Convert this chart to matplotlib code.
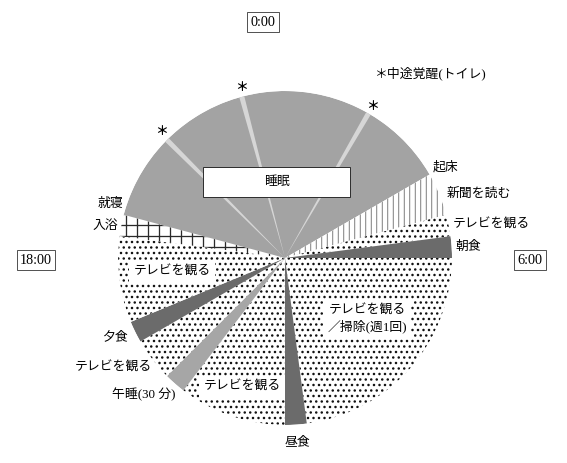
import numpy as np
import matplotlib
matplotlib.use("Agg")
import matplotlib.pyplot as plt
from matplotlib.patches import Rectangle

# ---------------- data ----------------
activity_labels = ["入浴", "睡眠", "新聞を読む", "テレビを観る", "朝食",
                   "テレビを観る／掃除", "昼食", "テレビを観る", "午睡",
                   "テレビを観る", "夕食", "テレビを観る"]
activity_kind = ["bath", "sleep", "news", "tv", "meal",
                 "tv", "meal", "tv", "nap", "tv", "meal", "tv"]
start_hour = [18.5, 19.0, 4.0, 5.0, 5.5, 6.0, 11.5, 12.0, 14.5, 15.0, 16.0, 16.5]
end_hour = [19.0, 28.0, 5.0, 5.5, 6.0, 11.5, 12.0, 14.5, 15.0, 16.0, 16.5, 18.5]
wake_hours = [21.0, 23.0, 2.0]      # 中途覚醒（トイレ）
wake_minutes = 7
clock_labels = ["0:00", "6:00", "18:00"]

# ---------------- styles ----------------
W, H, DPI = 567, 463, 66
FONT = ["Liberation Serif", "Noto Sans CJK JP", "DejaVu Sans"]
plt.rcParams["font.family"] = FONT

styles = {
    "sleep": dict(color="#a3a3a3", hatch=None, ec="#a3a3a3", hlw=1.0),
    "bath":  dict(color="white", hatch="+", ec="#2a2a2a", hlw=1.4),
    "news":  dict(color="white", hatch="||", ec="#666666", hlw=0.9),
    "tv":    dict(color="white", hatch="..", ec="#111111", hlw=1.5),
    "meal":  dict(color="#6b6b6b", hatch=None, ec="#6b6b6b", hlw=1.0),
    "nap":   dict(color="#a6a6a6", hatch=None, ec="#a6a6a6", hlw=1.0),
}

def fx(x):
    return x / W

def fy(y):
    return 1 - y / H

def h2rad(h):
    return np.asarray(h) / 24.0 * 2 * np.pi

fig = plt.figure(figsize=(W / DPI, H / DPI), dpi=DPI)
fig.patch.set_facecolor("white")

cx, cy, R = 285, 258, 167
ax = fig.add_axes([fx(cx - R), fy(cy + R), 2 * R / W, 2 * R / H], projection="polar")
ax.set_theta_zero_location("N")
ax.set_theta_direction(-1)
ax.set_ylim(0, 1)
ax.axis("off")

for kind, s, e in zip(activity_kind, start_hour, end_hour):
    st = styles[kind]
    with plt.rc_context({"hatch.linewidth": st["hlw"]}):
        bars = ax.bar(h2rad(s), 1.0, width=h2rad(e - s), bottom=0, align="edge",
                      color=st["color"], edgecolor=st["ec"], hatch=st["hatch"],
                      linewidth=0)
    for b in bars:
        if hasattr(b, "set_hatch_linewidth"):
            b.set_hatch_linewidth(st["hlw"])

ax.bar(h2rad(wake_hours), 1.0, width=h2rad(wake_minutes / 60.0), bottom=0,
       align="center", color="#d6d6d6", linewidth=0)

# ---------------- text ----------------
fs = 14
def label(x, y, s, ha="left", **kw):
    fig.text(fx(x), fy(y), s, ha=ha, va="center", fontsize=fs, family=FONT, **kw)

# clock boxes
box_kw = dict(boxstyle="square,pad=0.22", fc="white", ec="#333333", lw=0.9)
for s, (x, y) in zip(clock_labels, [(263, 22), (530, 260), (36, 260)]):
    fig.text(fx(x), fy(y), s, ha="center", va="center", fontsize=15.5,
             family=FONT, bbox=box_kw)

# sleep box
fig.patches.append(Rectangle((fx(203), fy(197)), fx(350) - fx(203), fy(167) - fy(197),
                             transform=fig.transFigure, fc="white", ec="#222222",
                             lw=1.0, zorder=5))
fig.text(fx(277), fy(182), "睡眠", ha="center", va="center", fontsize=fs,
         family=FONT, zorder=6)

# outside labels
label(123, 204, "就寝", ha="right")
label(118, 226, "入浴", ha="right")
label(128, 337, "夕食", ha="right")
label(152, 368, "テレビを観る", ha="right")
label(176, 395, "午睡(30 分)", ha="right")
label(297, 442, "昼食", ha="center")
label(433, 167, "起床")
label(447, 194, "新聞を読む")
label(453, 225, "テレビを観る")
label(455, 247, "朝食")
label(374, 73, "＊中途覚醒(トイレ)")

# inside labels with white background
wb = dict(boxstyle="square,pad=0.35", fc="white", ec="none")
label(172, 272, "テレビを観る", ha="center", bbox=wb)
label(242, 387, "テレビを観る", ha="center", bbox=wb)
fig.text(fx(367), fy(319), "テレビを観る\n／掃除(週1回)", ha="center", va="center",
         fontsize=fs, family=FONT, linespacing=1.3, bbox=wb)

# asterisks
for (x, y) in [(162, 132), (242, 88), (373, 107)]:
    fig.text(fx(x), fy(y), "＊", ha="center", va="center", fontsize=fs,
             family=FONT, fontweight="bold")

fig.savefig("out.png", dpi=DPI, facecolor="white")
